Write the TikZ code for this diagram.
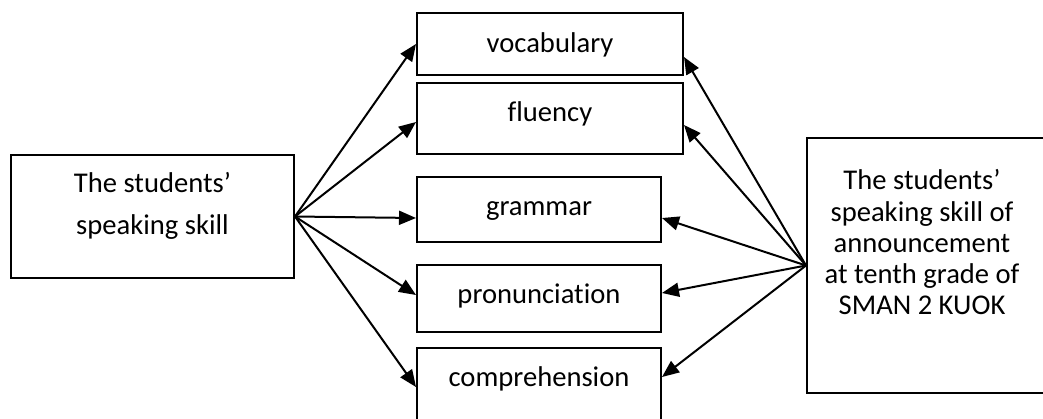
\documentclass[tikz,border=0pt]{standalone}
\usepackage{fontspec}
\setmainfont{Carlito}[Ligatures={TeX,NoCommon}]
\usepackage{tikz}
\usetikzlibrary{arrows.meta}
\tikzstyle{box}=[draw, line width=2pt, shape=rectangle, inner sep=0pt]
\tikzstyle{txt}=[inner sep=0pt, align=center, font=\fontsize{28.6}{31.25}\selectfont]
\tikzstyle{word}=[txt, anchor=base]
\tikzstyle{arr}=[->, line width=2pt]
\tikzset{>={Triangle[length=17pt, width=14pt]}}

\begin{document}
\begin{tikzpicture}[x=1pt, y=-1pt]
\path[use as bounding box, clip] (0,0) rectangle (1043,418);
% the boxes
\node[box, minimum width=283pt, minimum height=123pt] (skill) at (152.5,216.5) {};
\node[box, minimum width=266pt, minimum height=62pt] (voc) at (550,44) {};
\node[box, minimum width=266pt, minimum height=71pt] (flu) at (550,118.5) {};
\node[box, minimum width=244pt, minimum height=65pt] (gram) at (539,209.5) {};
\node[box, minimum width=244pt, minimum height=67pt] (pron) at (539,298.5) {};
\node[box, minimum width=244pt, minimum height=78pt] (comp) at (539,387) {};
\node[box, minimum width=243pt, minimum height=255pt] (ann) at (928.5,265.5) {};
% the texts
\node[txt, font=\fontsize{28.6}{42}\selectfont] (skillT) at (152.5,206) {The students'\\speaking skill};
\node[word] (vocT) at (550,52) {vocabulary};
\node[word] (fluT) at (550,121) {fluency};
\node[word] (gramT) at (539,215) {grammar};
\node[word] (pronT) at (539,303) {pronunciation};
\node[word] (compT) at (539,386) {comprehension};
\node[txt] (annT) at (922,242.5) {The students'\\speaking skill of\\announcement\\at tenth grade of\\SMAN 2 KUOK};
% the arrows
\foreach \t/\s in {voc/0, flu/-3.5, gram/-8.5, pron/3.5, comp/0}
  \draw[arr] (skill.east) -- ([yshift=\s pt]\t.west);
\foreach \t/\s in {voc/-13, flu/-6.5, gram/-8.5, pron/5.5, comp/10}
  \draw[arr] (ann.west) -- ([yshift=\s pt]\t.east);
\end{tikzpicture}
\end{document}
